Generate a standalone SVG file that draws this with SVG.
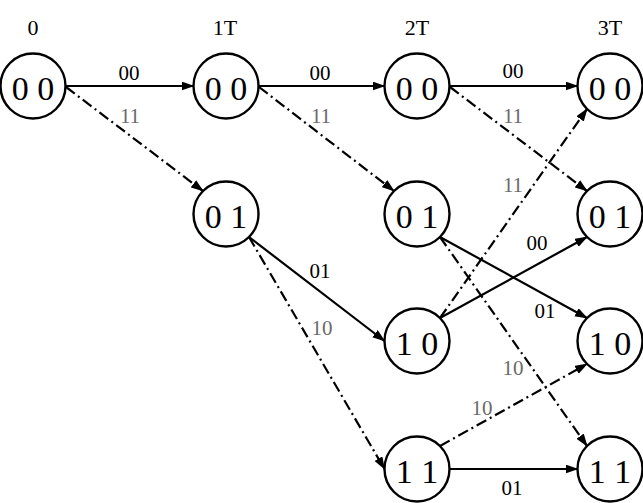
<svg xmlns="http://www.w3.org/2000/svg" width="643" height="503" viewBox="0 0 643 503">
<style>
text{font-family:'Liberation Serif','Times New Roman',serif}
.node circle{fill:#fff;stroke:#000;stroke-width:2.4}
.node text{font-size:34px;text-anchor:middle;fill:#000}
.col{font-size:22px;text-anchor:middle;fill:#000}
.lbl{font-size:21px;text-anchor:middle;fill:#000}
.lbl.g{fill:#6a6a6a}
.e{stroke:#000;stroke-width:2.2;fill:none;marker-end:url(#arr)}
.dd{stroke-dasharray:11,4,2,4}
</style>
<defs>
<marker id="arr" markerUnits="userSpaceOnUse" markerWidth="14" markerHeight="10" refX="12" refY="4.5" orient="auto">
<path d="M0,0 L13,4.5 L0,9 z" fill="#000"/>
</marker>
</defs>
<g id="column-labels">
<text class="col" x="33" y="35">0</text>
<text class="col" x="225" y="35">1T</text>
<text class="col" x="417" y="35">2T</text>
<text class="col" x="610" y="35">3T</text>
</g>
<g id="connectors">
<line class="e" x1="65.5" y1="86" x2="193.5" y2="86"/>
<line class="e dd" x1="66" y1="87" x2="203" y2="191"/>
<line class="e" x1="258.5" y1="86" x2="384.5" y2="86"/>
<line class="e dd" x1="259" y1="87" x2="394" y2="191"/>
<line class="e" x1="449.5" y1="86" x2="577.5" y2="86"/>
<line class="e dd" x1="450" y1="87" x2="587" y2="191"/>
<line class="e" x1="249" y1="237" x2="384.5" y2="341"/>
<line class="e dd" x1="249" y1="237" x2="384.5" y2="469"/>
<line class="e" x1="440" y1="237" x2="587" y2="318"/>
<line class="e dd" x1="440" y1="237" x2="587" y2="446"/>
<line class="e dd" x1="440" y1="318" x2="587" y2="109"/>
<line class="e" x1="440" y1="318" x2="587" y2="237"/>
<line class="e dd" x1="440" y1="446" x2="587" y2="364"/>
<line class="e" x1="449.5" y1="469" x2="577.5" y2="469"/>
</g>
<g id="edge-labels">
<text class="lbl" x="129" y="80">00</text>
<text class="lbl g" x="130" y="123">11</text>
<text class="lbl" x="320" y="80">00</text>
<text class="lbl g" x="321" y="123">11</text>
<text class="lbl" x="513" y="78">00</text>
<text class="lbl g" x="513" y="123">11</text>
<text class="lbl g" x="513" y="192">11</text>
<text class="lbl" x="320" y="278">01</text>
<text class="lbl g" x="322" y="335">10</text>
<text class="lbl" x="537" y="250">00</text>
<text class="lbl" x="545" y="318">01</text>
<text class="lbl g" x="513" y="375">10</text>
<text class="lbl g" x="482" y="415">10</text>
<text class="lbl" x="512" y="495">01</text>
</g>
<g id="n0-00" class="node"><circle cx="33" cy="86" r="32.5"/><text x="33" y="100">0 0</text></g>
<g id="n1-00" class="node"><circle cx="226" cy="86" r="32.5"/><text x="226" y="100">0 0</text></g>
<g id="n1-01" class="node"><circle cx="226" cy="214" r="32.5"/><text x="226" y="228">0 1</text></g>
<g id="n2-00" class="node"><circle cx="417" cy="86" r="32.5"/><text x="417" y="100">0 0</text></g>
<g id="n2-01" class="node"><circle cx="417" cy="214" r="32.5"/><text x="417" y="228">0 1</text></g>
<g id="n2-10" class="node"><circle cx="417" cy="341" r="32.5"/><text x="417" y="355">1 0</text></g>
<g id="n2-11" class="node"><circle cx="417" cy="469" r="32.5"/><text x="417" y="483">1 1</text></g>
<g id="n3-00" class="node"><circle cx="610" cy="86" r="32.5"/><text x="610" y="100">0 0</text></g>
<g id="n3-01" class="node"><circle cx="610" cy="214" r="32.5"/><text x="610" y="228">0 1</text></g>
<g id="n3-10" class="node"><circle cx="610" cy="341" r="32.5"/><text x="610" y="355">1 0</text></g>
<g id="n3-11" class="node"><circle cx="610" cy="469" r="32.5"/><text x="610" y="483">1 1</text></g>
</svg>
